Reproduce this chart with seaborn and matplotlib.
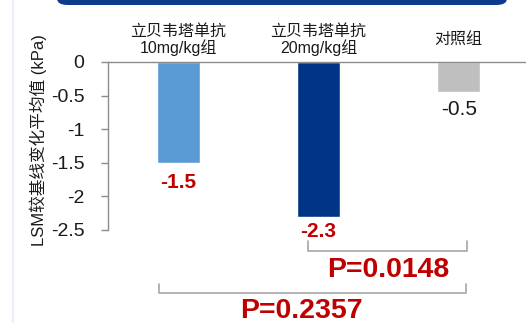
import matplotlib
matplotlib.use("Agg")
import matplotlib.pyplot as plt
import seaborn as sns
import pandas as pd
from matplotlib.patches import FancyBboxPatch
from matplotlib.lines import Line2D

categories = ["立贝韦塔单抗\n10mg/kg组", "立贝韦塔单抗\n20mg/kg组", "对照组"]
values = [-1.5, -2.3, -0.45]
value_labels = ["-1.5", "-2.3", "-0.5"]
colors = ["#5B9BD5", "#003486", "#BFBFBF"]
label_colors = ["#C00000", "#C00000", "#1A1A1A"]
label_bold = [True, True, False]
yticks = [0, -0.5, -1, -1.5, -2, -2.5]
ytick_labels = ["0", "-0.5", "-1", "-1.5", "-2", "-2.5"]
ylabel = "LSM较基线变化平均值 (kPa)"
comparisons = [(1, 2, "P=0.0148"), (0, 2, "P=0.2357")]

sns.set_theme(style="white")
plt.rcParams['font.family'] = ['Liberation Sans', 'Noto Sans CJK SC', 'DejaVu Sans']

fig = plt.figure(figsize=(5.26, 3.23), dpi=100)
ax = fig.add_axes([108/526, 1-230/323, 1-108/526, (230-62)/323])

df = pd.DataFrame({"cat": categories, "val": values})
sns.barplot(data=df, x="cat", y="val", hue="cat", palette=colors, legend=False,
            width=0.31, ax=ax, saturation=1)

ax.set_ylim(-2.5, 0)
ax.set_xlim(-0.502, 2.48)
ax.set_yticks(yticks)
ax.set_yticklabels(ytick_labels, fontsize=14, color="#1A1A1A")
ax.set_ylabel(ylabel, fontsize=12, color="#1A1A1A")
ax.yaxis.set_label_coords(-0.146, 0.536)

ax.xaxis.tick_top()
ax.set_xlabel("")
ax.set_xticks(range(len(categories)))
ax.set_xticklabels(categories, fontsize=11.5, color="#1A1A1A", linespacing=1.0)
for t in ax.get_xticklabels():
    t.set_va("center")
ax.tick_params(axis="x", length=0, pad=16)
ax.tick_params(axis="y", direction="out", length=5, width=1, color="#8C8C8C", pad=12, left=True)

for s in ["bottom", "right"]:
    ax.spines[s].set_visible(False)
for s in ["top", "left"]:
    ax.spines[s].set_visible(True)
    ax.spines[s].set_color("#8C8C8C")
    ax.spines[s].set_linewidth(1)

# value labels
offsets = [0.29, 0.22, 0.26]
for i, (v, lab) in enumerate(zip(values, value_labels)):
    ax.text(i, v - offsets[i], lab, ha="center", va="center", fontsize=15,
            color=label_colors[i], fontweight="bold" if label_bold[i] else "normal",
            clip_on=False)

# brackets
bracket_geo = [(0.925, 2.06, -2.81, -2.67, 1.50, -3.10),
               (-0.14, 2.05, -3.44, -3.30, 0.875, -3.70)]
for (a, b, txt), (x0, x1, yb, yt, tx, ty) in zip(comparisons, bracket_geo):
    ax.plot([x0, x0, x1, x1], [yt, yb, yb, yt], color="#A6A6A6", lw=1.2, clip_on=False)
    ax.text(tx, ty, txt, ha="center", va="center", fontsize=20.5, fontweight="bold",
            color="#C00000", clip_on=False)

# decorations: top banner and faint left line
banner = FancyBboxPatch((57/526, 1-5/323), (507-57)/526, 20/323,
                        boxstyle="round,pad=0,rounding_size=0.02",
                        transform=fig.transFigure, facecolor="#0D3A8A", edgecolor="none")
fig.patches.append(banner)
fig.lines.append(Line2D([12.5/526, 12.5/526], [0, 1], transform=fig.transFigure,
                        color="#EAF0F8", lw=1.5))

fig.savefig("out.png", dpi=100)
